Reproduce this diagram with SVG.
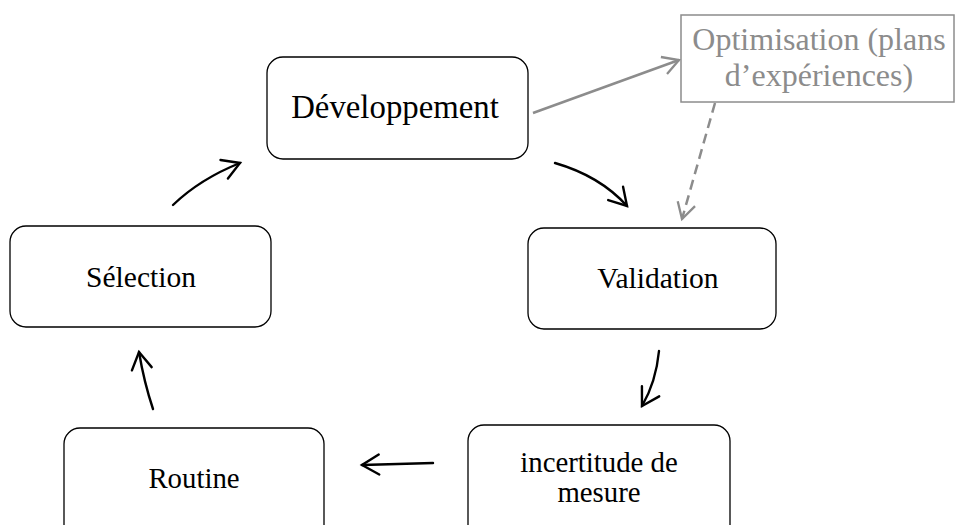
<svg xmlns="http://www.w3.org/2000/svg" width="956" height="525" viewBox="0 0 956 525" font-family="'Liberation Serif', 'Times New Roman', serif">
<style>
.box{fill:#fff;stroke:#000;stroke-width:1.3}
.gbox{fill:#fff;stroke:#8c8c8c;stroke-width:1.5}
.lbl{font-family:'Liberation Serif','Times New Roman',serif;font-size:29.3px;fill:#000;text-anchor:middle}
.glbl{font-family:'Liberation Serif','Times New Roman',serif;font-size:32px;fill:#8c8c8c;text-anchor:middle}
.a{fill:none;stroke:#000;stroke-width:2.4;stroke-linecap:round;marker-end:url(#ah)}
.g{fill:none;stroke:#8c8c8c;stroke-width:2.5;marker-end:url(#gh)}
</style>
<defs>
<marker id="ah" markerUnits="userSpaceOnUse" viewBox="-20 -12 22 24" refX="0" refY="0" markerWidth="22" markerHeight="24" orient="auto" overflow="visible">
<path d="M-17,-10 L0,0 L-17,10" fill="none" stroke="#000" stroke-width="2.4" stroke-linecap="round"/>
</marker>
<marker id="gh" markerUnits="userSpaceOnUse" viewBox="-20 -12 22 24" refX="0" refY="0" markerWidth="22" markerHeight="24" orient="auto" overflow="visible">
<path d="M-16,-9 L0,0 L-16,9" fill="none" stroke="#8c8c8c" stroke-width="2.3"/>
</marker>
</defs>
<g id="connectors">
<path class="g" d="M533,113 L679,60"/>
<path class="g" d="M715,103 L682,219" stroke-dasharray="10,6"/>
<path class="a" d="M555,163 Q600,176 627,206"/>
<path class="a" d="M659,351 Q656,382 642,406"/>
<path class="a" d="M433,463 L362,465"/>
<path class="a" d="M153,409 Q144,382 139,352"/>
<path class="a" d="M173,205 Q200,179 240,163"/>
</g>
<g id="developpement">
<rect class="box" x="267" y="57" width="261" height="102" rx="16"/>
<text class="lbl" x="395" y="118" style="font-size:32.8px">Développement</text>
</g>
<g id="optimisation">
<rect class="gbox" x="681" y="15" width="273" height="87"/>
<text class="glbl" x="819" y="50">Optimisation (plans</text>
<text class="glbl" x="819" y="86">d’expériences)</text>
</g>
<g id="validation">
<rect class="box" x="528" y="228" width="248" height="101" rx="16"/>
<text class="lbl" x="658" y="288" style="font-size:29.5px">Validation</text>
</g>
<g id="selection">
<rect class="box" x="10" y="226" width="261" height="101" rx="16"/>
<text class="lbl" x="141" y="287" style="font-size:29.5px">Sélection</text>
</g>
<g id="routine">
<rect class="box" x="64" y="428" width="260" height="120" rx="16"/>
<text class="lbl" x="194" y="488" style="font-size:28.8px">Routine</text>
</g>
<g id="incertitude">
<rect class="box" x="468" y="425" width="262" height="120" rx="16"/>
<text class="lbl" x="599" y="471.5" style="font-size:28.8px">incertitude de</text>
<text class="lbl" x="599" y="501.5" style="font-size:28.8px">mesure</text>
</g>
</svg>
